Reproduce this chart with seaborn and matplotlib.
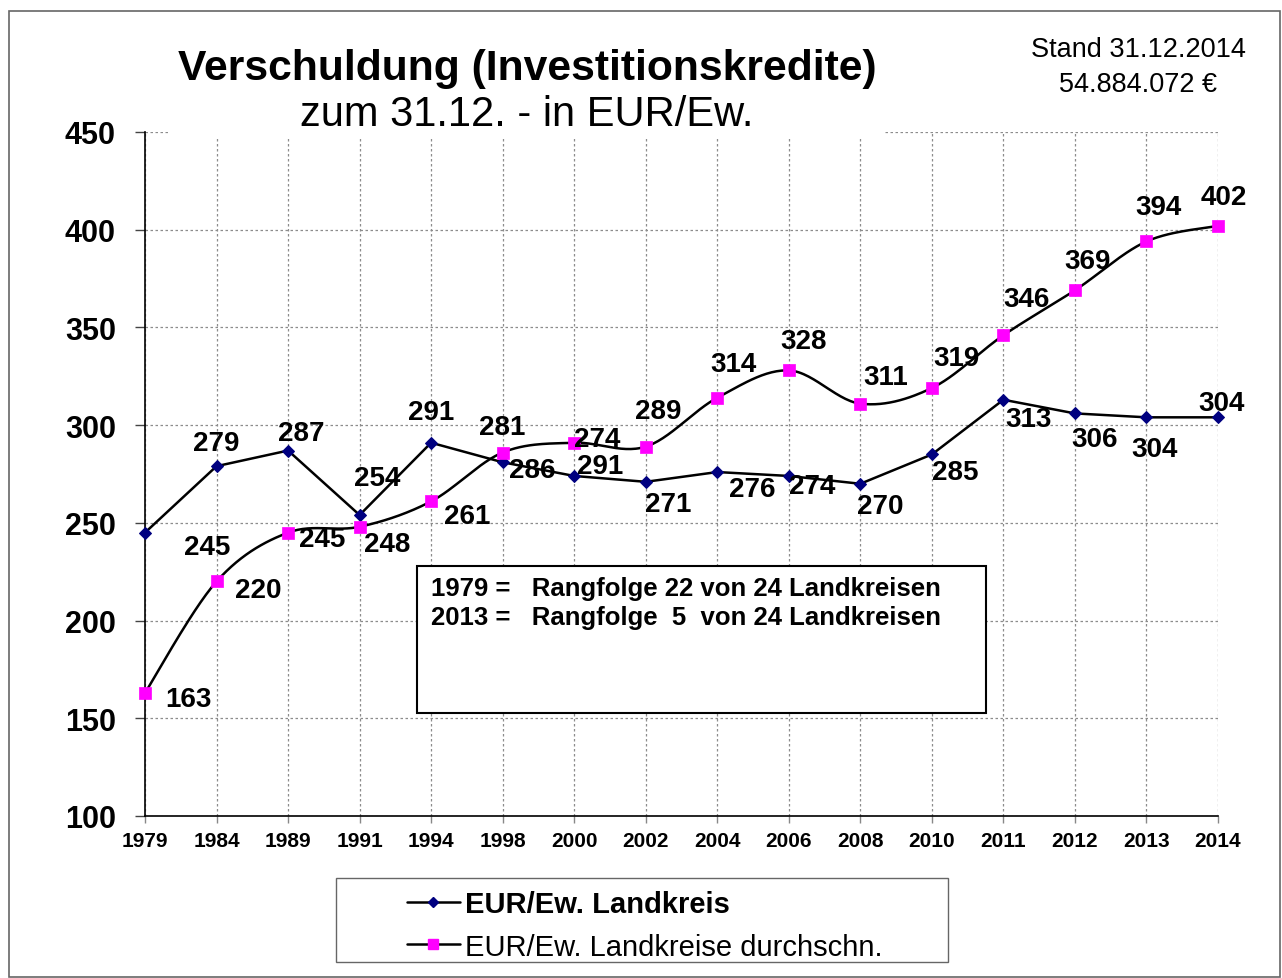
import matplotlib
matplotlib.use("Agg")

import matplotlib.pyplot as plt
import numpy as np
import seaborn as sns
from matplotlib.lines import Line2D
from matplotlib.patches import Rectangle

# ---------------------------------------------------------------------------
# DATA
# ---------------------------------------------------------------------------
YEARS = ["1979", "1984", "1989", "1991", "1994", "1998", "2000", "2002",
         "2004", "2006", "2008", "2010", "2011", "2012", "2013", "2014"]
LANDKREIS = [245, 279, 287, 254, 291, 281, 274, 271,
             276, 274, 270, 285, 313, 306, 304, 304]
DURCHSCHN = [163, 220, 245, 248, 261, 286, 291, 289,
             314, 328, 311, 319, 346, 369, 394, 402]

LABEL_LANDKREIS = "EUR/Ew. Landkreis"
LABEL_DURCHSCHN = "EUR/Ew. Landkreise durchschn."

# label offsets in pixels (dx, dy downwards)
OFF_LANDKREIS = [(62, 14), (0, -23), (13, -18), (18, -37), (0, -31), (0, -35),
                 (23, -37), (22, 22), (35, 17), (23, 10), (20, 22), (23, 18),
                 (25, 19), (20, 26), (8, 32), (4, -14)]
OFF_DURCHSCHN = [(43, 6), (42, 9), (34, 6), (28, 17), (36, 15), (30, 17),
                 (26, 23), (12, -36), (16, -34), (15, -29), (25, -27), (25, -30),
                 (23, -36), (13, -29), (12, -34), (6, -29)]

W, H = 1282, 979
FONT = "Liberation Sans"


def smooth_curve(xs, ys, steps=30):
    """Excel-like smoothed line: cubic bezier with catmull-rom control points."""
    pts = np.column_stack([xs, ys]).astype(float)
    n = len(pts)
    out = []
    for i in range(n - 1):
        p0 = pts[max(i - 1, 0)]
        p1 = pts[i]
        p2 = pts[i + 1]
        p3 = pts[min(i + 2, n - 1)]
        c1 = p1 + (p2 - p0) / 6.0
        c2 = p2 - (p3 - p1) / 6.0
        t = np.linspace(0, 1, steps)[:, None]
        seg = ((1 - t) ** 3) * p1 + 3 * ((1 - t) ** 2) * t * c1 \
            + 3 * (1 - t) * t ** 2 * c2 + t ** 3 * p2
        out.append(seg if i == 0 else seg[1:])
    out = np.vstack(out)
    return out[:, 0], out[:, 1]


sns.set_style("white")
plt.rcParams["font.family"] = [FONT, "DejaVu Sans"]
plt.rcParams["text.color"] = "black"
plt.rcParams["xtick.color"] = "black"
plt.rcParams["ytick.color"] = "black"
plt.rcParams["axes.labelcolor"] = "black"

fig = plt.figure(figsize=(W / 100, H / 100), dpi=100)
ax = fig.add_axes([145 / W, 1 - 817 / H, (1218 - 145) / W, (817 - 133) / H])

idx = np.arange(len(YEARS))

# Landkreis: straight line with navy diamonds
sns.lineplot(x=idx, y=LANDKREIS, ax=ax, color="black", linewidth=1.8,
             marker="D", markersize=6, markerfacecolor="#000080",
             markeredgecolor="#000080", zorder=3, clip_on=False)

# Landkreise durchschnitt: smoothed line with magenta squares
sx, sy = smooth_curve(idx, DURCHSCHN)
sns.lineplot(x=sx, y=sy, ax=ax, color="black", linewidth=1.8, sort=False,
             estimator=None, zorder=3, clip_on=False)
sns.scatterplot(x=idx, y=DURCHSCHN, ax=ax, marker="s", s=75,
                color="#FF00FF", edgecolor="#FF00FF", linewidth=0.5, zorder=4,
                clip_on=False)

# data labels
for i, v in enumerate(LANDKREIS):
    dx, dy = OFF_LANDKREIS[i]
    ax.annotate(str(v), (i, v), xytext=(dx, -dy), textcoords="offset pixels",
                ha="center", va="center", fontsize=20, fontweight="bold",
                color="black", zorder=6)
for i, v in enumerate(DURCHSCHN):
    dx, dy = OFF_DURCHSCHN[i]
    ax.annotate(str(v), (i, v), xytext=(dx, -dy), textcoords="offset pixels",
                ha="center", va="center", fontsize=20, fontweight="bold",
                color="black", zorder=6)

ax.set_xlim(0, len(YEARS) - 1)
ax.set_ylim(100, 450)
ax.set_xticks(idx)
ax.set_xticklabels(YEARS, fontsize=15, fontweight="bold")
ax.set_yticks(np.arange(100, 451, 50))
ax.set_yticklabels([str(v) for v in range(100, 451, 50)], fontsize=22,
                   fontweight="bold")
ax.tick_params(axis="y", direction="out", length=7, width=1, pad=14,
               left=True, color="#444444", labelcolor="black")
ax.tick_params(axis="x", direction="out", length=5, width=1, pad=6,
               bottom=True, color="#888888", labelcolor="black")
ax.grid(True, color="#8c8c8c", linestyle=(0, (2, 2)), linewidth=0.9)
ax.set_xlabel("")
ax.set_ylabel("")
for side in ["top", "right"]:
    ax.spines[side].set_visible(False)
for side in ["left", "bottom"]:
    ax.spines[side].set_color("black")
    ax.spines[side].set_linewidth(1.2)

# annotation box with ranking text
ax_box = Rectangle((417 / W, 1 - 714 / H), (986 - 417) / W, (714 - 567) / H,
                   transform=fig.transFigure, facecolor="white",
                   edgecolor="black", linewidth=1.5, zorder=2)
fig.add_artist(ax_box)
fig.text(431 / W, 1 - 589 / H, "1979 =   Rangfolge 22 von 24 Landkreisen",
         fontsize=18.5, fontweight="bold", va="center", ha="left", zorder=3)
fig.text(431 / W, 1 - 618 / H, "2013 =   Rangfolge  5  von 24 Landkreisen",
         fontsize=18.5, fontweight="bold", va="center", ha="left", zorder=3)

# white area behind the title
fig.add_artist(Rectangle((170 / W, 1 - 139 / H), (884 - 170) / W, 139 / H,
                         transform=fig.transFigure, facecolor="white",
                         edgecolor="none", zorder=2))
fig.text(527 / W, 1 - 80 / H, "Verschuldung (Investitionskredite)",
         fontsize=30.7, fontweight="bold", ha="center", va="baseline", zorder=3)
fig.text(527 / W, 1 - 126 / H, "zum 31.12. - in EUR/Ew.",
         fontsize=30, ha="center", va="baseline", zorder=3)

fig.text(1138 / W, 1 - 57 / H, "Stand 31.12.2014", fontsize=19.5,
         ha="center", va="baseline")
fig.text(1138 / W, 1 - 92 / H, "54.884.072 €", fontsize=19.5,
         ha="center", va="baseline")

# legend
fig.add_artist(Rectangle((336 / W, 1 - 963 / H), (948 - 336) / W, (963 - 879) / H,
                         transform=fig.transFigure, facecolor="white",
                         edgecolor="#666666", linewidth=1.0, zorder=2))
handles = [
    Line2D([], [], color="black", linewidth=1.8, marker="D", markersize=5,
           markerfacecolor="#000080", markeredgecolor="#000080"),
    Line2D([], [], color="black", linewidth=1.8, marker="s", markersize=7,
           markerfacecolor="#FF00FF", markeredgecolor="#FF00FF"),
]
leg = fig.legend(handles, [LABEL_LANDKREIS, LABEL_DURCHSCHN],
                 loc="upper left", bbox_to_anchor=(407 / W, 1 - 891 / H),
                 frameon=False, fontsize=21, handlelength=1.8,
                 handletextpad=0.2, borderpad=0, borderaxespad=0,
                 labelspacing=0.5, numpoints=1)
leg.set_zorder(3)
leg.get_texts()[0].set_fontweight("bold")

# outer frame
fig.add_artist(Rectangle((9 / W, 1 / H), (1280 - 9) / W, (966) / H,
                         transform=fig.transFigure, facecolor="none",
                         edgecolor="#666666", linewidth=1.2, zorder=5))

fig.savefig("out.png", dpi=100)
